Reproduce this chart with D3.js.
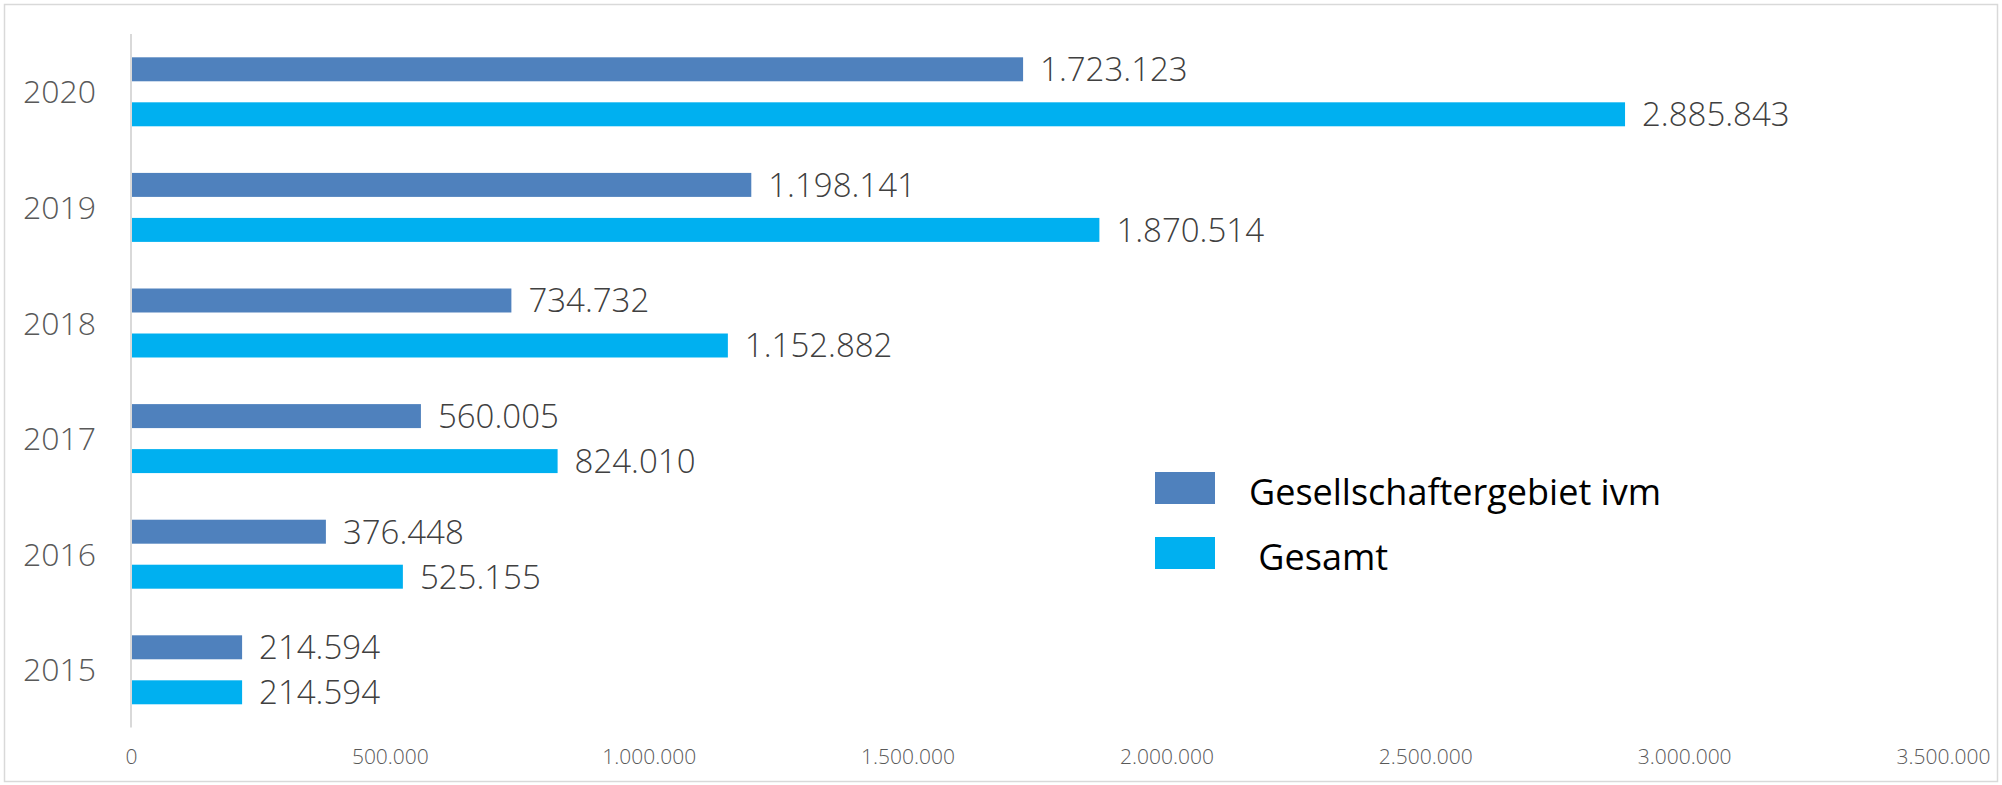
<!DOCTYPE html>
<html><head><meta charset="utf-8">
<script src="https://cdn.jsdelivr.net/npm/d3@7"></script>
<style>html,body{margin:0;padding:0;background:#fff;}svg{display:block;}</style>
</head><body>
<svg id="chart" width="2002" height="785"></svg>
<script>
const categories = ["2015","2016","2017","2018","2019","2020"];
const seriesNames = ["Gesellschaftergebiet ivm", " Gesamt"];
const seriesIvm = [214594, 376448, 560005, 734732, 1198141, 1723123];
const seriesGesamt = [214594, 525155, 824010, 1152882, 1870514, 2885843];
const tickValues = [0, 500000, 1000000, 1500000, 2000000, 2500000, 3000000, 3500000];
const colors = ["#4F81BD", "#00B0F0"];

(function(){
const fmt = v => d3.format(",")(v).replace(/,/g, ".");
const svg = d3.select("#chart");
const font = "'Open Sans', sans-serif";

svg.append("rect").attr("x",4.5).attr("y",4.5).attr("width",1993).attr("height",777)
  .attr("fill","#fff").attr("stroke","#d9d9d9").attr("stroke-width",1.5);

const pLeft = 131, pTop = 34, pRight = 1943, pBottom = 727.6;
const x = d3.scaleLinear().domain([0, 3500000]).range([pLeft, pRight]);
const y = d3.scaleBand().domain(categories.slice().reverse()).range([pTop, pBottom]).paddingInner(0).paddingOuter(0);
const ySub = d3.scaleBand().domain([0,1]).range([0, y.bandwidth()]).paddingInner(0.467).paddingOuter(0.518);

const data = categories.map((c,i)=>({cat:c, vals:[seriesIvm[i], seriesGesamt[i]]}));

const g = svg.append("g");
data.forEach(d=>{
  d.vals.forEach((v,s)=>{
    const yy = y(d.cat) + ySub(s);
    g.append("rect").attr("x", x(0)+1).attr("y", yy).attr("width", x(v)-x(0)-1)
      .attr("height", ySub.bandwidth()).attr("fill", colors[s]);
    g.append("text").attr("x", x(v)+17).attr("y", yy + ySub.bandwidth()/2)
      .attr("dy","0.36em").attr("font-family",font).attr("font-size",33).attr("font-weight",300)
      .attr("fill","#404040").text(fmt(v));
  });
});

svg.append("line").attr("x1",pLeft).attr("x2",pLeft).attr("y1",pTop).attr("y2",pBottom)
  .attr("stroke","#d9d9d9").attr("stroke-width",2);

svg.append("g").selectAll("text").data(categories).join("text")
  .attr("x", 96).attr("y", d=>y(d)+y.bandwidth()/2).attr("dy","0.36em")
  .attr("text-anchor","end").attr("font-family",font).attr("font-size",32).attr("font-weight",300)
  .attr("fill","#595959").text(d=>d);

const xAxis = d3.axisBottom(x).tickValues(tickValues).tickFormat(fmt).tickSize(0).tickPadding(0);
const ax = svg.append("g").attr("transform",`translate(0,${756})`).call(xAxis);
ax.select(".domain").remove();
ax.selectAll("text").attr("font-family",font).attr("font-size",21).attr("font-weight",300).attr("fill","#595959").attr("dy","0.36em");

const leg = svg.append("g");
const legY = [472, 537];
seriesNames.forEach((n,i)=>{
  leg.append("rect").attr("x",1155).attr("y",legY[i]).attr("width",60).attr("height",32).attr("fill",colors[i]);
  leg.append("text").attr("x",1249).attr("y",legY[i]+33).attr("font-family",font).attr("font-weight",400)
    .attr("font-size",36).attr("fill","#000").style("white-space","pre").text(n);
});
})();
</script>
</body></html>
